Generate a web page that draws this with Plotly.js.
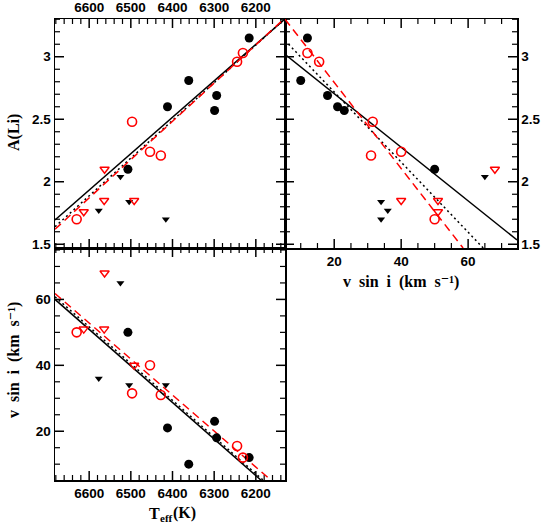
<!DOCTYPE html>
<html>
<head>
<meta charset="utf-8">
<script src="https://cdn.plot.ly/plotly-3.0.1.min.js"></script>
<style>html,body{margin:0;padding:0;background:#fff;}#plot{width:546px;height:523px;}</style>
</head>
<body>
<div id="plot"></div>
<script>
// ---- data ----
const blkCircTeff  = [6216, 6361, 6412, 6294, 6299, 6507];
const blkCircALi   = [3.15, 2.81, 2.60, 2.69, 2.57, 2.10];
const blkCircVsini = [12, 10, 21, 18, 23, 50];

const redCircTeff  = [6630, 6497, 6454, 6428, 6245, 6231];
const redCircALi   = [1.70, 2.48, 2.24, 2.21, 2.96, 3.03];
const redCircVsini = [50, 31.5, 40, 31, 15.5, 12];

const blkTriTeff  = [6577, 6525, 6504, 6416];
const blkTriALi   = [1.77, 2.04, 1.84, 1.70];
const blkTriVsini = [36, 65, 34, 34];

const redTriTeff  = [6613, 6563, 6564, 6492];
const redTriALi   = [1.76, 2.10, 1.85, 1.85];
const redTriVsini = [51, 68, 51, 40];

// fit lines (end points)
const fitTeffP1      = [6682, 6130];
const fitSolidALiP1  = [1.694, 3.302];
const fitDotALiP1    = [1.640, 3.305];
const fitDashALiP1   = [1.620, 3.310];

const fitSolidVsP2   = [5.3, 74.6];
const fitSolidALiP2  = [3.02, 1.534];
const fitDotVsP2     = [5.3, 64.5];
const fitDotALiP2    = [3.13, 1.47];
const fitDashVsP2    = [5.3, 58.5];
const fitDashALiP2   = [3.30, 1.47];

const fitSolidTeffP3 = [6682, 6188];
const fitSolidVsP3   = [60.0, 5.2];
const fitDotTeffP3   = [6682, 6183];
const fitDotVsP3     = [60.8, 5.2];
const fitDashTeffP3  = [6682, 6164];
const fitDashVsP3    = [61.8, 5.2];

// tick values
const teffMajorTicks  = [6200, 6300, 6400, 6500, 6600];
const aliMajorTicks   = [1.5, 2, 2.5, 3];
const vsiniMajorTicks = [20, 40, 60];

// axis ranges
const teffRange  = [6682, 6130];
const aliRange   = [1.47, 3.302];
const vsiniRangeX = [5.3, 74.6];
const vsiniRangeY = [5.2, 75.6];

const RED = '#ff0000';
const W = 546, H = 523;

const xL = [55 / W, 285 / W], xR = [285 / W, 517 / W];
const yT = [(H - 248) / H, (H - 19) / H], yB = [(H - 480) / H, (H - 248) / H];

function markers(x, y, kind, xa, ya) {
  const m = {
    bc: {symbol: 'circle', size: 9, color: '#000'},
    rc: {symbol: 'circle-open', size: 9, color: RED, line: {color: RED, width: 1.6}},
    bt: {symbol: 'triangle-down', size: 7, color: '#000'},
    rt: {symbol: 'triangle-down-open', size: 8, color: RED, line: {color: RED, width: 1.4}}
  }[kind];
  return {x: x, y: y, mode: 'markers', type: 'scatter', marker: m, xaxis: xa, yaxis: ya, hoverinfo: 'skip'};
}
function line(x, y, style, xa, ya) {
  const l = {
    solid: {color: '#000', width: 1.5, dash: 'solid'},
    dot: {color: '#000', width: 1.5, dash: '2px,3px'},
    dash: {color: RED, width: 1.5, dash: '8px,5px'}
  }[style];
  return {x: x, y: y, mode: 'lines', type: 'scatter', line: l, xaxis: xa, yaxis: ya, hoverinfo: 'skip'};
}

// ---- tick marks on all four sides (lengths in pixels converted through each axis scale) ----
function steps(a, b, d) {
  const out = [];
  for (let i = 0; a + i * d <= b + 1e-9; i++) out.push(+(a + i * d).toFixed(4));
  return out;
}
function notIn(vals, majors) { return vals.filter(v => !majors.some(m => Math.abs(m - v) < 1e-6)); }
function tickTrace(xr, yr, xdom, ydom, xv, yv, L, w, xa, ya) {
  const wPx = (xdom[1] - xdom[0]) * W, hPx = (ydom[1] - ydom[0]) * H;
  const dy = (yr[1] - yr[0]) / hPx, dx = (xr[1] - xr[0]) / wPx;
  const xs = [], ys = [];
  xv.forEach(v => {
    xs.push(v, v, null, v, v, null);
    ys.push(yr[1], yr[1] - L * dy, null, yr[0], yr[0] + L * dy, null);
  });
  yv.forEach(u => {
    xs.push(xr[0], xr[0] + L * dx, null, xr[1], xr[1] - L * dx, null);
    ys.push(u, u, null, u, u, null);
  });
  return {x: xs, y: ys, mode: 'lines', type: 'scatter', line: {color: '#000', width: w}, xaxis: xa, yaxis: ya, hoverinfo: 'skip', connectgaps: false};
}
const MAJ = 9, MIN = 5;
const teffMinor = notIn(steps(6140, 6680, 20), teffMajorTicks);
const aliMinor = notIn(steps(1.5, 3.3, 0.1), aliMajorTicks);
const vsXMinor = notIn(steps(10, 70, 5), vsiniMajorTicks);
const vsYMinor = notIn(steps(10, 75, 5), vsiniMajorTicks);

const tickTraces = [
  tickTrace(teffRange, aliRange, xL, yT, teffMajorTicks, aliMajorTicks, MAJ, 1.5, 'x', 'y'),
  tickTrace(teffRange, aliRange, xL, yT, teffMinor, aliMinor, MIN, 1.2, 'x', 'y'),
  tickTrace(vsiniRangeX, aliRange, xR, yT, vsiniMajorTicks, aliMajorTicks, MAJ, 1.5, 'x2', 'y2'),
  tickTrace(vsiniRangeX, aliRange, xR, yT, vsXMinor, aliMinor, MIN, 1.2, 'x2', 'y2'),
  tickTrace(teffRange, vsiniRangeY, xL, yB, teffMajorTicks, vsiniMajorTicks, MAJ, 1.5, 'x3', 'y3'),
  tickTrace(teffRange, vsiniRangeY, xL, yB, teffMinor, vsYMinor, MIN, 1.2, 'x3', 'y3')
];

const traces = tickTraces.concat([
  line(fitTeffP1, fitSolidALiP1, 'solid', 'x', 'y'),
  line(fitTeffP1, fitDotALiP1, 'dot', 'x', 'y'),
  line(fitTeffP1, fitDashALiP1, 'dash', 'x', 'y'),
  markers(blkCircTeff, blkCircALi, 'bc', 'x', 'y'),
  markers(redCircTeff, redCircALi, 'rc', 'x', 'y'),
  markers(blkTriTeff, blkTriALi, 'bt', 'x', 'y'),
  markers(redTriTeff, redTriALi, 'rt', 'x', 'y'),

  line(fitSolidVsP2, fitSolidALiP2, 'solid', 'x2', 'y2'),
  line(fitDotVsP2, fitDotALiP2, 'dot', 'x2', 'y2'),
  line(fitDashVsP2, fitDashALiP2, 'dash', 'x2', 'y2'),
  markers(blkCircVsini, blkCircALi, 'bc', 'x2', 'y2'),
  markers(redCircVsini, redCircALi, 'rc', 'x2', 'y2'),
  markers(blkTriVsini, blkTriALi, 'bt', 'x2', 'y2'),
  markers(redTriVsini, redTriALi, 'rt', 'x2', 'y2'),

  line(fitSolidTeffP3, fitSolidVsP3, 'solid', 'x3', 'y3'),
  line(fitDotTeffP3, fitDotVsP3, 'dot', 'x3', 'y3'),
  line(fitDashTeffP3, fitDashVsP3, 'dash', 'x3', 'y3'),
  markers(blkCircTeff, blkCircVsini, 'bc', 'x3', 'y3'),
  markers(redCircTeff, redCircVsini, 'rc', 'x3', 'y3'),
  markers(blkTriTeff, blkTriVsini, 'bt', 'x3', 'y3'),
  markers(redTriTeff, redTriVsini, 'rt', 'x3', 'y3')
]);

const tickFont = {family: 'Liberation Sans, Arial, sans-serif', size: 13.5, color: '#000', weight: 'bold'};
const titleFont = {family: 'Liberation Serif, DejaVu Serif, serif', size: 16, color: '#000', weight: 'bold'};
const subFont = {family: 'Liberation Serif, DejaVu Serif, serif', size: 11, color: '#000', weight: 'bold'};
const SP = '\u00a0\u00a0';
const vsiniTitle = 'v' + SP + 'sin' + SP + 'i' + SP + '(km' + SP + 's\u207b\u00b9)';

function axis(extra) {
  return Object.assign({
    showgrid: false, zeroline: false, showline: true, linecolor: '#000', linewidth: 1.5,
    mirror: true, ticks: '', tickfont: tickFont, tickmode: 'array', showspikes: false
  }, extra);
}

const layout = {
  width: W, height: H,
  margin: {l: 0, r: 0, t: 0, b: 0, pad: 0},
  showlegend: false,
  xaxis: axis({domain: xL, anchor: 'y', side: 'top', range: teffRange, tickvals: teffMajorTicks}),
  yaxis: axis({domain: yT, anchor: 'x', range: aliRange, tickvals: aliMajorTicks}),
  xaxis2: axis({domain: xR, anchor: 'y2', side: 'bottom', range: vsiniRangeX, tickvals: vsiniMajorTicks}),
  yaxis2: axis({domain: yT, anchor: 'x2', side: 'right', range: aliRange, tickvals: aliMajorTicks}),
  xaxis3: axis({domain: xL, anchor: 'y3', side: 'bottom', range: teffRange, tickvals: teffMajorTicks}),
  yaxis3: axis({domain: yB, anchor: 'x3', range: vsiniRangeY, tickvals: vsiniMajorTicks}),
  annotations: [
    {text: 'A(Li)', xref: 'paper', yref: 'paper', x: 14 / W, y: (H - 133) / H, textangle: -90, showarrow: false, font: titleFont, xanchor: 'center', yanchor: 'middle'},
    {text: vsiniTitle, xref: 'paper', yref: 'paper', x: 14 / W, y: (H - 360) / H, textangle: -90, showarrow: false, font: titleFont, xanchor: 'center', yanchor: 'middle'},
    {text: vsiniTitle, xref: 'paper', yref: 'paper', x: 401 / W, y: (H - 282) / H, showarrow: false, font: titleFont, xanchor: 'center', yanchor: 'middle'},
    {text: 'T', xref: 'paper', yref: 'paper', x: 147 / W, y: (H - 513) / H, showarrow: false, font: titleFont, xanchor: 'left', yanchor: 'middle'},
    {text: 'eff', xref: 'paper', yref: 'paper', x: 158 / W, y: (H - 518) / H, showarrow: false, font: subFont, xanchor: 'left', yanchor: 'middle'},
    {text: '(K)', xref: 'paper', yref: 'paper', x: 171 / W, y: (H - 513) / H, showarrow: false, font: titleFont, xanchor: 'left', yanchor: 'middle'}
  ]
};

Plotly.newPlot('plot', traces, layout, {staticPlot: true});
</script>
</body>
</html>
